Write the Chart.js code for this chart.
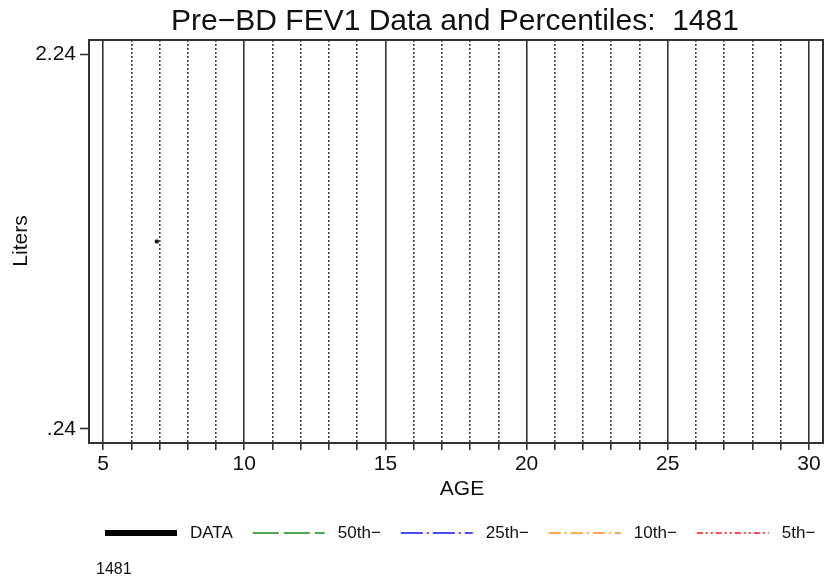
<!DOCTYPE html>
<html>
<head>
<meta charset="utf-8">
<script src="https://cdn.jsdelivr.net/npm/chart.js@4.4.0/dist/chart.umd.min.js"></script>
<style>
  html, body { margin: 0; padding: 0; background: #fff; }
  #wrap { width: 824px; height: 581px; }
</style>
</head>
<body>
<div id="wrap"><canvas id="fevChart" width="824" height="581"></canvas></div>
<script>
// data
var ages = [6.9];
var fev1 = [1.24];
var yTicks = [0.24, 2.24];
var xLabels = [5, 10, 15, 20, 25, 30];
var xGrid = Array.from({length: 26}, function (_, i) { return 5 + i; });
var seriesNames = ['DATA', '50th\u2212', '25th\u2212', '10th\u2212', '5th\u2212'];
var subjectId = '1481';

var FONT = '"Liberation Sans", Arial, sans-serif';
var INK = '#333';

function isMajor(v) { return xLabels.indexOf(v) !== -1; }

var frameAndText = {
  id: 'frameAndText',
  afterDraw: function (chart) {
    var c = chart.ctx, a = chart.chartArea;
    c.save();
    c.strokeStyle = INK;
    c.lineWidth = 2;
    c.strokeRect(a.left, a.top, a.right - a.left, a.bottom - a.top);

    c.fillStyle = '#111';
    c.textAlign = 'center';
    c.textBaseline = 'alphabetic';
    c.font = '30px ' + FONT;
    c.fillText('Pre\u2212BD FEV1 Data and Percentiles:  ' + subjectId, 455, 30);

    c.font = '21px ' + FONT;
    c.fillText('AGE', 462, 495);
    c.save();
    c.translate(27, 241);
    c.rotate(-Math.PI / 2);
    c.fillText('Liters', 0, 0);
    c.restore();

    // legend
    c.font = '17px ' + FONT;
    c.textAlign = 'left';
    c.textBaseline = 'middle';
    var x = 105, y = 533;
    chart.data.datasets.forEach(function (ds) {
      c.save();
      c.strokeStyle = ds.borderColor;
      c.lineWidth = ds.legendWidth;
      c.setLineDash(ds.borderDash || []);
      c.beginPath();
      c.moveTo(x, y);
      c.lineTo(x + 72, y);
      c.stroke();
      c.restore();
      c.fillStyle = '#111';
      c.fillText(ds.label, x + 85, y);
      x = x + 85 + c.measureText(ds.label).width + 20;
    });
    c.font = '16px ' + FONT;
    c.fillText(subjectId, 96, 570);
    c.restore();
  }
};

var ctx = document.getElementById('fevChart').getContext('2d');
var fevChart = new Chart(ctx, {
  type: 'scatter',
  data: {
    datasets: [
      { label: seriesNames[0], data: ages.map(function (a, i) { return {x: a, y: fev1[i]}; }),
        borderColor: '#000', backgroundColor: '#222', pointStyle: 'rect', pointRadius: 2,
        legendWidth: 6, borderDash: [] },
      { label: seriesNames[1], data: [], borderColor: '#1a8a1a', legendWidth: 1.3, borderDash: [26, 5] },
      { label: seriesNames[2], data: [], borderColor: '#1010ff', legendWidth: 1.3, borderDash: [22, 4, 2, 4] },
      { label: seriesNames[3], data: [], borderColor: '#ff8c1a', legendWidth: 1.3, borderDash: [12, 4, 2, 4] },
      { label: seriesNames[4], data: [], borderColor: '#ff1010', legendWidth: 1.3, borderDash: [6, 3, 2, 3, 2, 3] }
    ]
  },
  options: {
    responsive: false,
    animation: false,
    layout: { autoPadding: false, padding: { top: 40, right: 1, left: 0, bottom: 0 } },
    plugins: { legend: { display: false }, title: { display: false }, tooltip: { enabled: false } },
    scales: {
      x: {
        type: 'linear', min: 4.5, max: 30.5,
        afterBuildTicks: function (s) { s.ticks = xGrid.map(function (v) { return {value: v}; }); },
        afterFit: function (s) { s.height = 138; s.paddingLeft = 0; s.paddingRight = 0; },
        ticks: {
          autoSkip: false, maxRotation: 0, padding: 2, color: '#111',
          font: { family: FONT, size: 21 },
          callback: function (v) { return isMajor(v) ? String(v) : ''; }
        },
        grid: {
          color: function (c) { return c.tick && isMajor(c.tick.value) ? INK : 'rgba(0,0,0,0)'; },
          lineWidth: 1.6, tickColor: INK, tickLength: 7, tickWidth: 1.6
        },
        border: { display: false }
      },
      x2: {
        type: 'linear', position: 'bottom', min: 4.5, max: 30.5,
        afterBuildTicks: function (s) { s.ticks = xGrid.map(function (v) { return {value: v}; }); },
        afterFit: function (s) { s.paddingLeft = 0; s.paddingRight = 0; },
        ticks: { display: false },
        grid: {
          color: function (c) { return c.tick && !isMajor(c.tick.value) ? '#444' : 'rgba(0,0,0,0)'; },
          lineWidth: 1.6, drawTicks: false
        },
        border: { display: false, dash: [2, 2] }
      },
      y: {
        type: 'linear', min: 0.165, max: 2.315,
        afterBuildTicks: function (s) { s.ticks = yTicks.map(function (v) { return {value: v}; }); },
        afterFit: function (s) { s.width = 89; },
        ticks: {
          padding: 4, color: '#111',
          font: { family: FONT, size: 21 },
          callback: function (v) { return v.toFixed(2).replace(/^0/, ''); }
        },
        grid: { drawOnChartArea: false, tickColor: INK, tickLength: 9, tickWidth: 1.6 },
        border: { display: false }
      }
    }
  },
  plugins: [frameAndText]
});
</script>
</body>
</html>
